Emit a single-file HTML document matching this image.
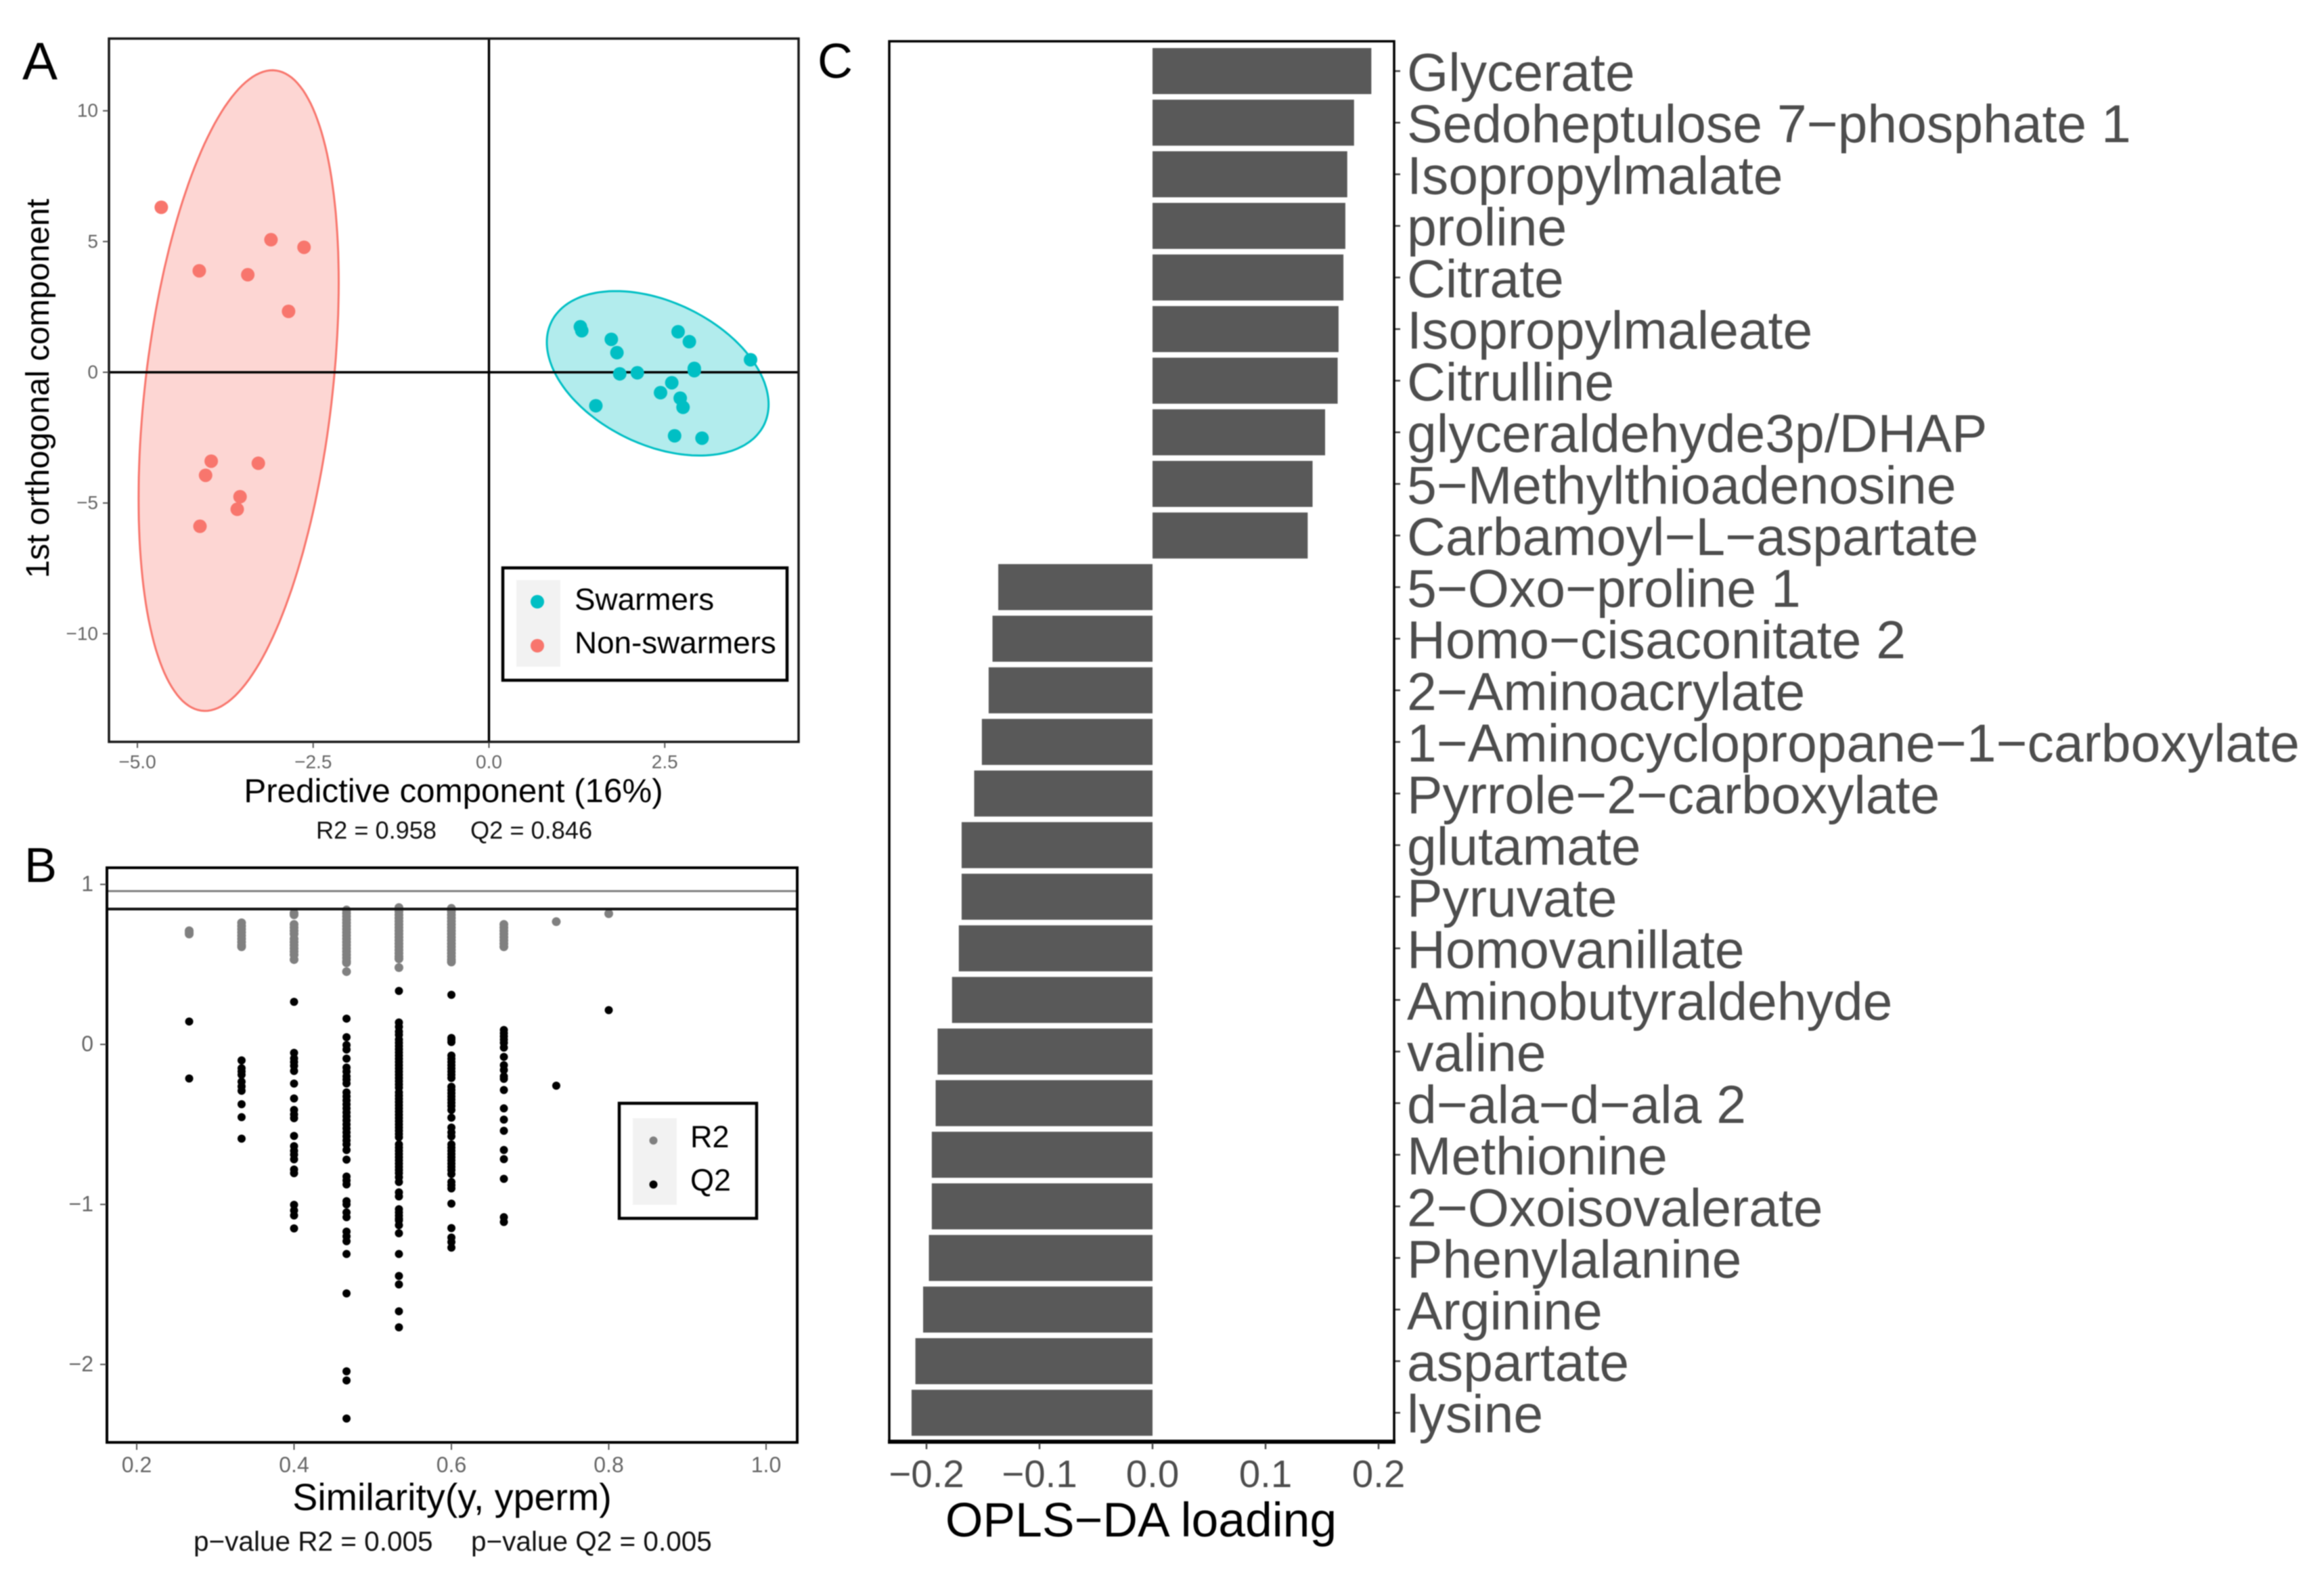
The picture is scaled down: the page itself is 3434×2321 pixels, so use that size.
<!DOCTYPE html>
<html>
<head>
<meta charset="utf-8">
<title>OPLS-DA score plot, permutation test and loadings</title>
<style>
html,body{margin:0;padding:0;background:#fff;}
svg{display:block;font-family:"Liberation Sans",sans-serif;filter:blur(0.8px);}
</style>
</head>
<body>
<svg id="figure" xmlns="http://www.w3.org/2000/svg" width="3434" height="2321" viewBox="0 0 3434 2321">
<rect x="0" y="0" width="3434" height="2321" fill="#ffffff"/>
<text x="33" y="117" font-size="78" fill="#000">A</text>
<text x="36" y="1303" font-size="72" fill="#000">B</text>
<text x="1208" y="115" font-size="72" fill="#000">C</text>
<g id="panelA"></g>
<g id="panelB"></g>
<g id="panelC"></g>
</svg>
<script>
// ---- Panel A data ----
const nonSwarmersX = [-4.66,-3.10,-2.63,-4.12,-3.43,-2.85,-3.95,-3.28,-4.03,-3.54,-3.58,-4.11];
const nonSwarmersY = [6.31,5.07,4.78,3.88,3.73,2.33,-3.40,-3.48,-3.94,-4.76,-5.24,-5.89];
const swarmersX = [1.30,1.32,1.74,1.82,1.86,2.11,1.52,2.69,2.85,2.92,2.92,3.72,2.60,2.44,2.72,2.76,2.64,3.03];
const swarmersY = [1.74,1.59,1.26,0.75,-0.06,-0.02,-1.28,1.55,1.17,0.15,0.06,0.48,-0.40,-0.78,-0.99,-1.34,-2.43,-2.52];
const nonSwarmersEllipse = [-3.56,-0.70,1.423,12.25,0.337];
const swarmersEllipse = [2.40,-0.04,1.577,3.145,-0.378];
const scoreXTicks = [-5,-2.5,0,2.5];
const scoreXTickLabels = ["\u22125.0","\u22122.5","0.0","2.5"];
const scoreYTicks = [-10,-5,0,5,10];
const scoreYTickLabels = ["\u221210","\u22125","0","5","10"];

// ---- Panel B data ----
const similarityLevels = [0.2667,0.3333,0.4,0.4667,0.5333,0.6,0.6667,0.7333,0.8];
const r2ByLevel = [
 [0.71,0.70,0.69],
 [0.76,0.74,0.72,0.70,0.68,0.66,0.64,0.62,0.61],
 [0.82,0.81,0.75,0.73,0.71,0.69,0.66,0.64,0.62,0.60,0.58,0.56,0.53],
 [0.84,0.82,0.80,0.78,0.76,0.74,0.72,0.70,0.68,0.66,0.64,0.62,0.60,0.58,0.56,0.54,0.52,0.51,0.455],
 [0.855,0.83,0.81,0.79,0.77,0.75,0.73,0.71,0.69,0.67,0.65,0.63,0.61,0.59,0.57,0.55,0.535,0.48],
 [0.85,0.83,0.81,0.79,0.77,0.75,0.73,0.71,0.69,0.67,0.65,0.63,0.61,0.59,0.57,0.55,0.53,0.515],
 [0.75,0.73,0.71,0.69,0.67,0.65,0.63,0.61],
 [0.767],
 [0.817]
];
const q2ByLevel = [
 [0.143,-0.213],
 [-0.10,-0.149,-0.169,-0.19,-0.233,-0.263,-0.29,-0.374,-0.455,-0.589],
 [0.266,-0.053,-0.088,-0.11,-0.134,-0.166,-0.245,-0.338,-0.41,-0.438,-0.461,-0.572,-0.636,-0.665,-0.689,-0.718,-0.782,-0.805,-1.0025,-1.038,-1.069,-1.15],
 [0.161,0.045,-0.004,-0.032,-0.089,-0.145,-0.17,-0.2,-0.22,-0.244,-0.30,-0.325,-0.35,-0.375,-0.40,-0.425,-0.45,-0.475,-0.50,-0.525,-0.55,-0.575,-0.60,-0.625,-0.66,-0.72,-0.826,-0.85,-0.875,-0.98,-1.0,-1.05,-1.08,-1.17,-1.2,-1.23,-1.31,-1.556,-2.043,-2.10,-2.338],
 [0.334,0.137,0.11,0.08,0.06,0.03,0.01,-0.01,-0.03,-0.05,-0.07,-0.09,-0.11,-0.13,-0.15,-0.17,-0.19,-0.21,-0.23,-0.25,-0.27,-0.30,-0.32,-0.34,-0.36,-0.38,-0.40,-0.42,-0.44,-0.46,-0.48,-0.50,-0.52,-0.54,-0.56,-0.58,-0.625,-0.645,-0.665,-0.685,-0.705,-0.725,-0.745,-0.765,-0.785,-0.805,-0.83,-0.86,-0.925,-0.95,-1.03,-1.05,-1.07,-1.09,-1.1,-1.13,-1.18,-1.31,-1.447,-1.5,-1.668,-1.768],
 [0.31,0.04,0.03,0.015,-0.07,-0.09,-0.11,-0.13,-0.15,-0.17,-0.19,-0.21,-0.265,-0.285,-0.305,-0.325,-0.345,-0.365,-0.385,-0.41,-0.458,-0.52,-0.55,-0.575,-0.625,-0.645,-0.665,-0.685,-0.705,-0.725,-0.745,-0.765,-0.785,-0.81,-0.86,-0.88,-0.9,-0.995,-1.148,-1.207,-1.235,-1.27],
 [0.09,0.07,0.05,0.03,0.01,-0.02,-0.078,-0.13,-0.16,-0.2,-0.215,-0.285,-0.40,-0.47,-0.54,-0.66,-0.717,-0.84,-1.08,-1.11],
 [-0.258],
 [0.214]
];
const referenceR2 = 0.958;
const referenceQ2 = 0.846;
const permXTicks = [0.2,0.4,0.6,0.8,1.0];
const permXTickLabels = ["0.2","0.4","0.6","0.8","1.0"];
const permYTicks = [-2,-1,0,1];
const permYTickLabels = ["\u22122","\u22121","0","1"];

// ---- Panel C data ----
const metabolites = ["Glycerate","Sedoheptulose 7\u2212phosphate 1","Isopropylmalate","proline","Citrate","Isopropylmaleate","Citrulline","glyceraldehyde3p/DHAP","5\u2212Methylthioadenosine","Carbamoyl\u2212L\u2212aspartate","5\u2212Oxo\u2212proline 1","Homo\u2212cisaconitate 2","2\u2212Aminoacrylate","1\u2212Aminocyclopropane\u22121\u2212carboxylate","Pyrrole\u22122\u2212carboxylate","glutamate","Pyruvate","Homovanillate","Aminobutyraldehyde","valine","d\u2212ala\u2212d\u2212ala 2","Methionine","2\u2212Oxoisovalerate","Phenylalanine","Arginine","aspartate","lysine"];
const loadings = [0.1936,0.1783,0.1723,0.1706,0.1689,0.1646,0.1638,0.1527,0.1416,0.1373,-0.1365,-0.1416,-0.145,-0.151,-0.1578,-0.1689,-0.1689,-0.1714,-0.1774,-0.1902,-0.1919,-0.1953,-0.1953,-0.1979,-0.203,-0.2098,-0.2132];
const loadingTicks = [-0.2,-0.1,0,0.1,0.2];
const loadingTickLabels = ["\u22120.2","\u22120.1","0.0","0.1","0.2"];

const NS = "http://www.w3.org/2000/svg";
function mk(parent, tag, attrs, txt){
  const el = document.createElementNS(NS, tag);
  for (const k in attrs) el.setAttribute(k, attrs[k]);
  if (txt !== undefined) el.textContent = txt;
  parent.appendChild(el);
  return el;
}

// axis functions
const xA = v => 722.5 + 103.9 * v;
const yA = v => 550 - 38.63 * v;
const xB = v => 202 + 1162.5 * (v - 0.2);
const yB = v => 1543 - 236.4 * v;
const xC = v => 1703 + 1670 * v;
const yC = i => 105 + 76.24 * i;

function ellipsePath(p){
  const phi = Math.acos(p[4]);
  let d = "";
  for (let i = 0; i <= 180; i++){
    const t = i / 180 * 2 * Math.PI;
    const x = xA(p[0] + p[2] * Math.cos(t));
    const y = yA(p[1] + p[3] * Math.cos(t - phi));
    d += (i ? "L" : "M") + x.toFixed(1) + " " + y.toFixed(1);
  }
  return d + "Z";
}

// ---- Panel A ----
const A = document.getElementById("panelA");
const ellipseRed = mk(A, "path", {d: ellipsePath(nonSwarmersEllipse), fill:"#F8766D", "fill-opacity":"0.3", stroke:"#F8766D", "stroke-width":"3"});


const ellipseTeal = mk(A, "path", {d: ellipsePath(swarmersEllipse), fill:"#00BFC4", "fill-opacity":"0.3", stroke:"#00BFC4", "stroke-width":"3"});


const zeroV = mk(A, "line", {x1:xA(0), x2:xA(0), y1:57, y2:1096, stroke:"#000", "stroke-width":"3.5"});


const zeroH = mk(A, "line", {x1:161, x2:1180, y1:yA(0), y2:yA(0), stroke:"#000", "stroke-width":"3.5"});


nonSwarmersX.forEach((v, i) => {
  const c = mk(A, "circle", {cx:xA(v), cy:yA(nonSwarmersY[i]), r:10, fill:"#F8766D"});
  
  
});
swarmersX.forEach((v, i) => {
  const c = mk(A, "circle", {cx:xA(v), cy:yA(swarmersY[i]), r:10, fill:"#00BFC4"});
  
  
});
const frameA = mk(A, "rect", {x:161, y:57, width:1019, height:1039, fill:"none", stroke:"#1a1a1a", "stroke-width":"3.5"});


scoreXTicks.forEach((v, i) => {
  const t = mk(A, "line", {x1:xA(v), x2:xA(v), y1:1097, y2:1105, stroke:"#555", "stroke-width":"2"});
  
  
  const l = mk(A, "text", {x:xA(v), y:1135, "font-size":"28", fill:"#666", "text-anchor":"middle"}, scoreXTickLabels[i]);
  
  
});
scoreYTicks.forEach((v, i) => {
  const t = mk(A, "line", {x1:152, x2:160, y1:yA(v), y2:yA(v), stroke:"#555", "stroke-width":"2"});
  
  
  const l = mk(A, "text", {x:145, y:yA(v)+9, "font-size":"28", fill:"#666", "text-anchor":"end"}, scoreYTickLabels[i]);
  
  
});
const xTitleA = mk(A, "text", {x:670, y:1185, "font-size":"49.3", fill:"#000", "text-anchor":"middle"}, "Predictive component (16%)");


const yTitleA = mk(A, "text", {transform:"translate(72 574) rotate(-90)", "font-size":"48.5", fill:"#000", "text-anchor":"middle"}, "1st orthogonal component");


const r2Cap = mk(A, "text", {x:467, y:1239, "font-size":"36.2", fill:"#111"}, "R2 = 0.958");


const q2Cap = mk(A, "text", {x:695, y:1239, "font-size":"36.2", fill:"#111"}, "Q2 = 0.846");


const legA = mk(A, "rect", {x:743, y:839, width:420, height:166, fill:"#fff", stroke:"#000", "stroke-width":"4.5"});


const legAKey = mk(A, "rect", {x:763, y:857, width:65, height:128, fill:"#f2f2f2"});


const legA1 = mk(A, "circle", {cx:794, cy:889, r:10, fill:"#00BFC4"});


const legA2 = mk(A, "circle", {cx:794, cy:954, r:10, fill:"#F8766D"});


const legA3 = mk(A, "text", {x:849, y:901, "font-size":"45.8", fill:"#000"}, "Swarmers");


const legA4 = mk(A, "text", {x:849, y:965, "font-size":"45.8", fill:"#000"}, "Non-swarmers");



// ---- Panel B ----
const B = document.getElementById("panelB");
similarityLevels.forEach((s, k) => {
  r2ByLevel[k].forEach(v => {
    const c = mk(B, "circle", {cx:xB(s), cy:yB(v), r:6.5, fill:"#808080"});
    
    
  });
  q2ByLevel[k].forEach(v => {
    const c = mk(B, "circle", {cx:xB(s), cy:yB(v), r:6, fill:"#000"});
    
    
  });
});
const lineR2 = mk(B, "line", {x1:158, x2:1178, y1:yB(referenceR2), y2:yB(referenceR2), stroke:"#808080", "stroke-width":"3"});


const lineQ2 = mk(B, "line", {x1:158, x2:1178, y1:yB(referenceQ2), y2:yB(referenceQ2), stroke:"#111", "stroke-width":"4"});


const frameB = mk(B, "rect", {x:158, y:1282, width:1020, height:849, fill:"none", stroke:"#000", "stroke-width":"4"});


permXTicks.forEach((v, i) => {
  const t = mk(B, "line", {x1:xB(v), x2:xB(v), y1:2132, y2:2142, stroke:"#555", "stroke-width":"2"});
  
  
  const l = mk(B, "text", {x:xB(v), y:2175, "font-size":"32", fill:"#666", "text-anchor":"middle"}, permXTickLabels[i]);
  
  
});
permYTicks.forEach((v, i) => {
  const t = mk(B, "line", {x1:148, x2:157, y1:yB(v), y2:yB(v), stroke:"#555", "stroke-width":"2"});
  
  
  const l = mk(B, "text", {x:138, y:yB(v)+10, "font-size":"32", fill:"#666", "text-anchor":"end"}, permYTickLabels[i]);
  
  
});
const xTitleB = mk(B, "text", {x:668, y:2231, "font-size":"55.6", fill:"#000", "text-anchor":"middle"}, "Similarity(y, yperm)");


const pR2 = mk(B, "text", {x:286, y:2291, "font-size":"40.5", fill:"#111"}, "p\u2212value R2 = 0.005");


const pQ2 = mk(B, "text", {x:696, y:2291, "font-size":"40.5", fill:"#111"}, "p\u2212value Q2 = 0.005");


const legB = mk(B, "rect", {x:915, y:1630, width:203, height:170, fill:"#fff", stroke:"#000", "stroke-width":"4.5"});


const legBKey = mk(B, "rect", {x:935, y:1652, width:65, height:128, fill:"#f2f2f2"});


const legB1 = mk(B, "circle", {cx:965.5, cy:1685, r:6, fill:"#808080"});


const legB2 = mk(B, "circle", {cx:965.5, cy:1750, r:6, fill:"#000"});


const legB3 = mk(B, "text", {x:1020, y:1695, "font-size":"45", fill:"#000"}, "R2");


const legB4 = mk(B, "text", {x:1020, y:1759, "font-size":"45", fill:"#000"}, "Q2");



// ---- Panel C ----
const C = document.getElementById("panelC");
loadings.forEach((v, i) => {
  const x0 = Math.min(xC(0), xC(v));
  const w = Math.abs(xC(v) - xC(0));
  const r = mk(C, "rect", {x:x0, y:yC(i)-34, width:w, height:68, fill:"#595959"});
  
  
  const t = mk(C, "line", {x1:2061, x2:2069, y1:yC(i), y2:yC(i), stroke:"#444", "stroke-width":"2.5"});
  
  
  const l = mk(C, "text", {x:2079, y:yC(i)+29, "font-size":"78.7", fill:"#4d4d4d"}, metabolites[i]);
  
  
});
const frameC = mk(C, "path", {d:"M1314 2130V61H2060V2130", fill:"none", stroke:"#000", "stroke-width":"3.5"});


const baseC = mk(C, "line", {x1:1312, x2:2062, y1:2130, y2:2130, stroke:"#000", "stroke-width":"6"});


loadingTicks.forEach((v, i) => {
  const t = mk(C, "line", {x1:xC(v), x2:xC(v), y1:2132, y2:2141, stroke:"#444", "stroke-width":"2.5"});
  
  
  const l = mk(C, "text", {x:xC(v), y:2197, "font-size":"56.5", fill:"#4d4d4d", "text-anchor":"middle"}, loadingTickLabels[i]);
  
  
});
const xTitleC = mk(C, "text", {x:1686, y:2270, "font-size":"71.5", fill:"#000", "text-anchor":"middle"}, "OPLS\u2212DA loading");


</script>
</body>
</html>
